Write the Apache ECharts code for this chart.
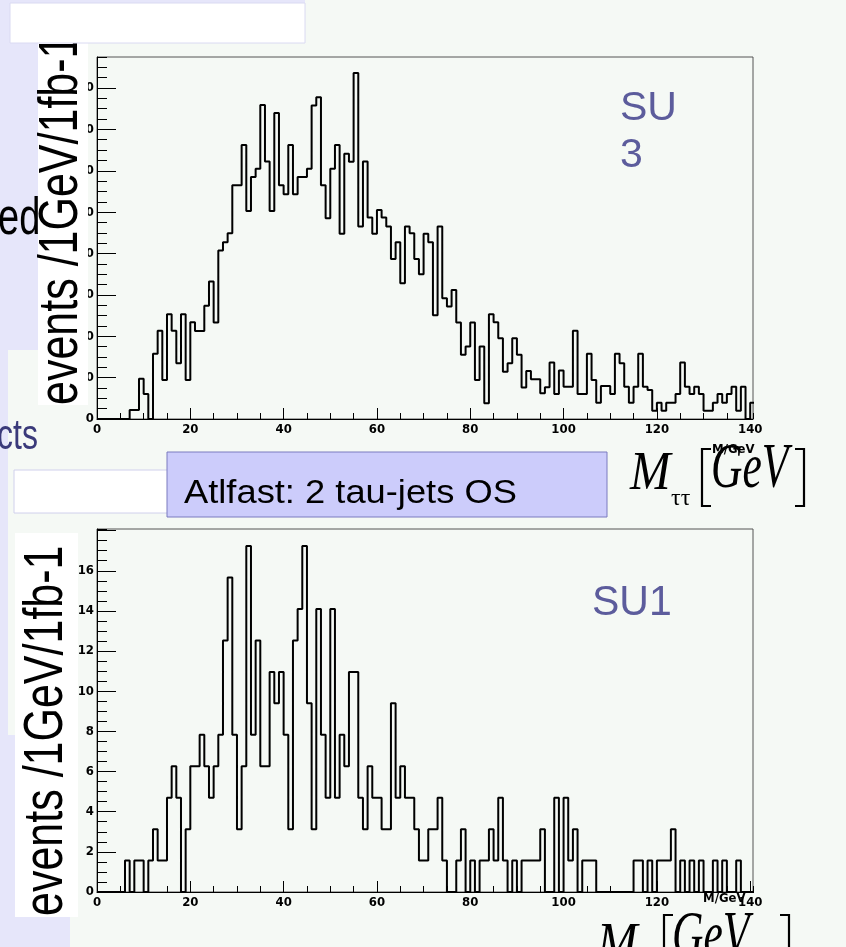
<!DOCTYPE html>
<html><head><meta charset="utf-8">
<script src="https://cdn.jsdelivr.net/npm/echarts@6/dist/echarts.min.js"></script>
<style>html,body{margin:0;padding:0;background:#e6e6fa;}#c{width:846px;height:947px;}</style>
</head><body><div id="c"></div>
<script>
// ---- data ----
const binStart = 0;          // lower edge of the first bin (GeV)
const binWidth = 1;          // 1 GeV bins
const xTickLabels = [0, 20, 40, 60, 80, 100, 120, 140];
const su3TickLabels = [0, 20, 40, 60, 80, 100, 120, 140, 160];
const su1TickLabels = [0, 2, 4, 6, 8, 10, 12, 14, 16];

// SU3: events / 1 GeV / 1 fb-1 per bin, bins 0..140
const su3Values = [
  0,0,0,0,0,0,0,4.4,4.4,19.5,
  12.1,0,31.5,42.7,18.9,50.6,42.7,26.9,50.6,18.9,
  46.8,42.6,42.6,54.7,66.5,46.6,81.5,85.5,89.8,113,
  113,132.4,100.6,117,121,151.8,124.5,100.6,147.9,113,
  108.7,132.4,108.7,117,117,121,151.6,155.6,113,97.1,
  121,132.4,89.5,128.2,124.4,167.3,93.1,124.5,97.4,89.5,
  101,97.4,93.1,77.3,85.5,65.6,93.1,89.8,77.3,70,
  89.5,85.5,50.2,93.1,58.4,54.4,62.4,46.6,31,35,
  46.6,18.9,35,7.6,50.6,46.8,39,22.9,26.9,39,
  31,15.2,23.2,19.2,19.2,12.4,15.3,27.3,12.1,23.4,
  15.6,15.6,42.7,12.1,12.1,31.5,18.9,7.9,16,16,
  12.1,31.5,27,15.6,7.9,15.6,31.5,15.6,14,4,
  7.9,4,7.9,7.9,12.1,27.3,15.6,12.1,15.6,12.1,
  4,4,7.9,12.1,7.9,12.1,15.6,4,15.6,0,
  7.9
];

// SU1: events / 1 GeV / 1 fb-1 per bin, bins 0..140
const su1Values = [
  0,0,0,0,0,0,1.57,0,1.57,1.57,
  0,1.57,3.13,1.57,1.57,4.70,6.26,4.70,0,3.13,
  6.26,6.26,7.83,6.26,4.70,6.26,7.83,12.53,15.66,7.83,
  3.13,6.26,17.23,7.83,12.53,6.26,6.26,10.96,9.40,10.96,
  7.83,3.13,12.53,14.09,17.23,9.40,3.13,14.09,7.83,4.70,
  14.09,4.70,7.83,6.26,10.96,10.96,4.70,3.13,6.26,4.70,
  4.70,3.13,3.13,9.40,4.70,6.26,4.70,4.70,3.13,1.57,
  1.57,3.13,3.13,4.70,1.57,0,0,1.57,3.13,0,
  1.57,0,1.57,1.57,3.13,1.57,4.70,1.57,0,1.57,
  0,1.57,1.57,1.57,1.57,3.13,0,0,4.70,0,
  4.70,1.57,3.13,0,1.57,1.57,1.57,0,0,0,
  0,0,0,0,0,1.57,1.57,0,1.57,0,
  1.57,1.57,1.57,3.13,0,1.57,0,1.57,0,1.57,
  0,0,1.57,0,1.57,0,0,1.57,0,0,
  0
];

// ---- build ----
function histPoints(vals) {
  const pts = vals.map((v, i) => [binStart + i * binWidth, v]);
  pts.push([binStart + vals.length * binWidth, 0]);
  return pts;
}
const NARROW = '"Liberation Sans Narrow","DejaVu Sans Condensed","Arial Narrow",sans-serif';
const SANS = '"Liberation Sans",Arial,sans-serif';
const SERIF = '"Liberation Serif","Times New Roman",serif';

function xAxes(g) {
  return [
    { type:'value', gridIndex:g, min:0, max:140.6, interval:20, position:'bottom',
      axisLine:{show:true,lineStyle:{color:'#000',width:1}},
      axisTick:{show:true,inside:true,length:11,lineStyle:{color:'#000',width:1}},
      axisLabel:{show:true,margin:4,fontFamily:NARROW,fontWeight:'bold',fontSize:13,color:'#000',
        showMaxLabel:false, formatter:v => xTickLabels.includes(v) ? String(v) : ''},
      splitLine:{show:false} },
    { type:'value', gridIndex:g, min:0, max:140.6, interval:5, position:'bottom',
      axisLine:{show:false}, axisLabel:{show:false}, splitLine:{show:false},
      axisTick:{show:true,inside:true,length:6,lineStyle:{color:'#000',width:1}} }
  ];
}
function yAxes(g, max, major, minor, labels) {
  return [
    { type:'value', gridIndex:g, min:0, max:max, interval:major, position:'left',
      axisLine:{show:true,lineStyle:{color:'#000',width:1}},
      axisTick:{show:true,inside:true,length:19,lineStyle:{color:'#000',width:1}},
      axisLabel:{show:true,margin:3,fontFamily:NARROW,fontWeight:'bold',fontSize:13,color:'#000',
        showMaxLabel:false, formatter:v => labels.includes(v) ? String(v) : ''},
      splitLine:{show:false} },
    { type:'value', gridIndex:g, min:0, max:max, interval:minor, position:'left',
      axisLine:{show:false}, axisLabel:{show:false}, splitLine:{show:false},
      axisTick:{show:true,inside:true,length:10,lineStyle:{color:'#000',width:1}} }
  ];
}

const LIGHT = '#f5f9f5';
const LAV = '#e6e6fa';
function rect(x, y, w, h, fill, z, stroke) {
  return { type:'rect', z:z, silent:true, shape:{x:x,y:y,width:w,height:h},
    style:{fill:fill, stroke:stroke || null, lineWidth: stroke ? 1 : 0} };
}
// text placed by the top of its line box
function text(t, x, y, font, fill, z, extra) {
  return Object.assign({ type:'text', z:z, silent:true, x:x, y:y,
    style:{text:t, x:0, y:0, font:font, fill:fill, align:'left', verticalAlign:'top',
      textAlign:'left', textVerticalAlign:'top'} }, extra || {});
}
function vtitle(x, y) {
  return { type:'text', z:30, silent:true, x:x, y:y, rotation:Math.PI/2, scaleY:1.3,
    style:{text:'events /1GeV/1fb-1', x:0, y:0, font:'43px ' + SANS, fill:'#000',
      align:'left', verticalAlign:'middle', textAlign:'left', textVerticalAlign:'middle'} };
}
function bracket(x0, x1, y0, y1) {
  return { type:'polyline', z:30, silent:true, shape:{points:[[x1,y0],[x0,y0],[x0,y1],[x1,y1]]},
    style:{stroke:'#000', lineWidth:2.2, fill:null} };
}

const graphics = [
  // canvases behind the plots
  rect(305, 0, 541, 45, LIGHT, -10),
  rect(8, 43, 838, 402, LIGHT, -10),
  rect(8, 445, 838, 502, LIGHT, -10),
  rect(0, 43, 40, 307, LAV, -9),
  rect(0, 735, 70, 212, LAV, -9),
  // boxes
  rect(10, 3, 295, 40, '#ffffff', 50, '#dadaf2'),
  rect(38, 43, 50, 362, '#ffffff', 20),
  rect(14, 470, 156, 43, '#ffffff', 20, '#d0d0ec'),
  rect(167, 452, 440, 65, '#ccccfb', 21, '#7b7bbf'),
  rect(15, 533, 63, 384, '#ffffff', 20),
  // slide texts
  text('ed', -2, 194, '38px ' + SANS, '#000', 30, {scaleY:1.35}),
  text('cts', -3, 417, '32px ' + SANS, '#3a3a7a', 30, {scaleY:1.3}),
  text('Atlfast: 2 tau-jets OS', 184, 477, '33px ' + SANS, '#000', 30, {scaleX:1.1}),
  text('SU', 620, 88, '41px ' + SANS, '#5c5c9c', 30),
  text('3', 620, 135, '41px ' + SANS, '#5c5c9c', 30),
  text('SU1', 592, 582, '41px ' + SANS, '#5c5c9c', 30, {scaleY:1.05}),
  // y titles
  vtitle(62, 405),
  vtitle(47, 916),
  // axis title M_tautau [GeV] (top)
  text('M', 630, 448, 'italic 54px ' + SERIF, '#000', 30, {scaleX:0.9}),
  text('ττ', 671, 487, '24px ' + SERIF, '#000', 30),
  bracket(702, 711, 449, 506),
  text('GeV', 711, 438, 'italic 53px ' + SERIF, '#000', 30, {scaleX:0.82, scaleY:1.2}),
  bracket(804, 795, 449, 506),
  text('M/GeV', 712, 443, 'bold 13px ' + NARROW, '#000', 31),
  // axis title (bottom, cut by the window edge)
  text('M', 597, 919, 'italic 54px ' + SERIF, '#000', 30, {scaleX:0.9}),
  bracket(664, 673, 915, 972),
  text('GeV', 672, 906, 'italic 53px ' + SERIF, '#000', 30, {scaleX:0.82, scaleY:1.2}),
  bracket(789, 780, 915, 972),
  text('M/GeV', 703, 892, 'bold 13px ' + NARROW, '#000', 31)
];

const chart = echarts.init(document.getElementById('c'), null, {renderer:'canvas'});
chart.setOption({
  animation:false,
  backgroundColor:LAV,
  grid:[
    {left:97, top:57, width:656, height:362, show:true, borderColor:'#555', borderWidth:1, backgroundColor:'transparent'},
    {left:97, top:529, width:656, height:363, show:true, borderColor:'#555', borderWidth:1, backgroundColor:'transparent'}
  ],
  xAxis:[...xAxes(0), ...xAxes(1)],
  yAxis:[...yAxes(0, 175, 20, 5, su3TickLabels), ...yAxes(1, 18.08, 2, 0.5, su1TickLabels)],
  series:[
    {type:'line', name:'SU3', xAxisIndex:0, yAxisIndex:0, step:'end', data:histPoints(su3Values),
      symbol:'none', clip:true, lineStyle:{color:'#000', width:2}, z:5},
    {type:'line', name:'SU1', xAxisIndex:2, yAxisIndex:2, step:'end', data:histPoints(su1Values),
      symbol:'none', clip:true, lineStyle:{color:'#000', width:2}, z:5}
  ],
  graphic:{elements:graphics}
});
</script></body></html>
